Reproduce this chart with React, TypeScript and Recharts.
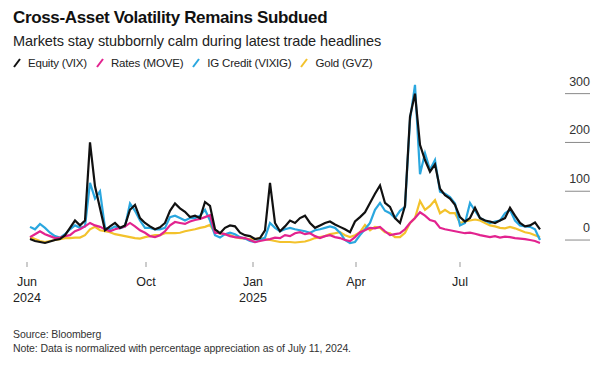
import React from 'react';
import { LineChart, Line, XAxis, YAxis } from 'recharts';

// normalized % change vs. Jul 11, 2024, sampled at even intervals
const equity = [
  2, -2, -4, -6, -3, 0, 2, 10, 25, 40,
  30, 40, 200, 110, 65, 20, 28, 35, 25, 30,
  62, 72, 45, 35, 28, 22, 26, 35, 60, 75,
  65, 58, 47, 50, 45, 78, 70, 22, 14, 25,
  30, 28, 15, 10, 8, 2, 4, 20, 117, 35,
  18, 28, 40, 35, 45, 50, 35, 25, 30, 35,
  38, 32, 27, 22, 16, 38, 47, 57, 76, 95,
  112, 76, 68, 45, 35, 70, 253, 300, 195, 164,
  140, 155, 105, 92, 85, 72, 47, 38, 45, 66,
  45, 40, 38, 35, 40, 45, 66, 50, 35, 28,
  30, 36, 22,
];
const rates = [
  6, 12, 18, 12, 8, 4, 5, 8, 10, 18,
  22, 28, 35, 30, 27, 22, 18, 22, 25, 28,
  35, 28, 20, 15, 8, 6, 10, 18, 30, 37,
  35, 33, 38, 41, 43, 47, 51, 15, 14, 12,
  8, 6, 5, 4, 0, -4, -2, 0, 2, 5,
  4, 10, 8, 14, 16, 12, 14, 8, 4, 8,
  10, 6, 4, 0, -2, 6, 16, 20, 25, 24,
  27, 18, 10, 12, 14, 22, 35, 45, 57, 50,
  41, 38, 25, 22, 20, 18, 16, 14, 15, 13,
  10, 8, 6, 8, 5, 7, 6, 4, 3, 2,
  0, -2, -6,
];
const credit = [
  27, 22, 33, 25, 15, 8, 5, 12, 22, 30,
  25, 28, 117, 85, 100, 25, 22, 28, 24, 28,
  75, 60, 40, 25, 25, 22, 22, 25, 47, 50,
  45, 40, 45, 45, 50, 62, 40, 10, 5, 12,
  15, 12, 6, 3, -2, -4, 0, 5, 35, 25,
  18, 22, 25, 22, 20, 18, 15, 20, 22, 25,
  28, 25, 15, 0, -6, -4, 10, 22, 35, 62,
  76, 60, 55, 45, 60, 68, 246, 318, 135, 178,
  144, 164, 99, 95, 88, 75, 30, 35, 76, 60,
  45, 40, 35, 38, 40, 55, 62, 40, 30, 28,
  27, 22, 0,
];
const gold = [
  6, 2, -2, -4, -2, 0, 2, 4, 4, 5,
  5, 10, 22, 27, 20, 18, 16, 12, 10, 8,
  6, 4, 3, 6, 8, 10, 10, 14, 14, 14,
  15, 18, 20, 22, 25, 27, 31, 15, 14, 12,
  10, 6, 4, 3, 2, 2, 4, 2, 0, -2,
  -4, -4, -4, -5, -4, -3, 0, 4, 6, 8,
  12, 14, 16, 10, 6, 10, 16, 31, 20, 27,
  25, 16, 14, 6, 6, 15, 35, 45, 80, 62,
  70, 82, 55, 62, 55, 55, 35, 38, 40, 42,
  40, 35, 30, 28, 25, 24, 27, 24, 20, 16,
  14, 10, 6,
];

const monthTicks = [-0.6, 23.2, 44.6, 65.2, 86];
const monthLabels = ['Jun', 'Oct', 'Jan', 'Apr', 'Jul'];
const yearLabels = ['2024', '', '2025', '', ''];
const yTicks = [0, 100, 200, 300];

const series = [
  { key: 'equity', name: 'Equity (VIX)', color: '#111111' },
  { key: 'rates', name: 'Rates (MOVE)', color: '#e2238f' },
  { key: 'credit', name: 'IG Credit (VIXIG)', color: '#2aa7df' },
  { key: 'gold', name: 'Gold (GVZ)', color: '#f3c22c' },
];

const data = equity.map((v, i) => ({
  i,
  equity: v,
  rates: rates[i],
  credit: credit[i],
  gold: gold[i],
}));

const font = '"Liberation Sans", Arial, sans-serif';

function MonthTick({ x, y, payload }: any) {
  const idx = monthTicks.indexOf(payload.value);
  return (
    <g>
      <text x={x} y={y + 17} textAnchor="middle" fontSize={12.5} fill="#222" fontFamily={font}>
        {monthLabels[idx]}
      </text>
      {yearLabels[idx] && (
        <text x={x} y={y + 33} textAnchor="middle" fontSize={12.5} fill="#222" fontFamily={font}>
          {yearLabels[idx]}
        </text>
      )}
    </g>
  );
}

function ValueTick({ x, y, payload }: any) {
  return (
    <g>
      <text x={x + 49} y={y - 8} textAnchor="end" fontSize={12.5} fill="#333" fontFamily={font}>
        {payload.value}
      </text>
      <line x1={x + 24} x2={x + 49} y1={y} y2={y} stroke="#8a8a8a" strokeWidth={1} />
    </g>
  );
}

function Legend() {
  return (
    <div style={{ position: 'absolute', left: 13, top: 56, display: 'flex', fontSize: 11.5, lineHeight: '14px', color: '#222', letterSpacing: -0.2 }}>
      {series.map((s) => (
        <div key={s.key} style={{ display: 'flex', alignItems: 'center', marginRight: 9 }}>
          <svg width={8} height={10} style={{ marginRight: 7 }}>
            <line x1={1} y1={9} x2={7} y2={1} stroke={s.color} strokeWidth={2} />
          </svg>
          <span>{s.name}</span>
        </div>
      ))}
    </div>
  );
}

export default function App() {
  return (
    <div style={{ position: 'absolute', left: 0, top: 0, width: 600, height: 367, background: '#fff', overflow: 'hidden', fontFamily: font }}>
      <div style={{ position: 'absolute', left: 13, top: 8, fontSize: 17, lineHeight: '20px', fontWeight: 'bold', letterSpacing: -0.35, color: '#111' }}>
        Cross-Asset Volatility Remains Subdued
      </div>
      <div style={{ position: 'absolute', left: 13, top: 32, fontSize: 14.5, lineHeight: '18px', color: '#222', letterSpacing: -0.1 }}>
        Markets stay stubbornly calm during latest trade headlines
      </div>
      <Legend />
      <div style={{ position: 'absolute', left: 0, top: 0 }}>
        <LineChart width={600} height={320} data={data} margin={{ top: 79, right: 0, bottom: 0, left: 25 }}>
          <XAxis
            dataKey="i"
            type="number"
            domain={[-1, 102.2]}
            ticks={monthTicks}
            tick={<MonthTick />}
            axisLine={false}
            tickLine={{ stroke: '#999' }}
            tickSize={5}
            tickMargin={2}
            height={58}
            allowDataOverflow
            interval={0}
          />
          <YAxis
            orientation="right"
            domain={[-45, 330]}
            ticks={yTicks}
            tick={<ValueTick />}
            axisLine={false}
            tickLine={false}
            tickSize={0}
            tickMargin={0}
            width={59}
            allowDataOverflow
            interval={0}
          />
          {[...series].reverse().map((s) => (
            <Line
              key={s.key}
              dataKey={s.key}
              stroke={s.color}
              strokeWidth={2.2}
              dot={false}
              type="linear"
              isAnimationActive={false}
            />
          ))}
        </LineChart>
      </div>
      <div style={{ position: 'absolute', left: 13, top: 327, fontSize: 10.5, lineHeight: '14px', color: '#333', letterSpacing: -0.1 }}>
        Source: Bloomberg
      </div>
      <div style={{ position: 'absolute', left: 13, top: 341, fontSize: 10.5, lineHeight: '14px', color: '#333', letterSpacing: -0.1 }}>
        Note: Data is normalized with percentage appreciation as of July 11, 2024.
      </div>
    </div>
  );
}
